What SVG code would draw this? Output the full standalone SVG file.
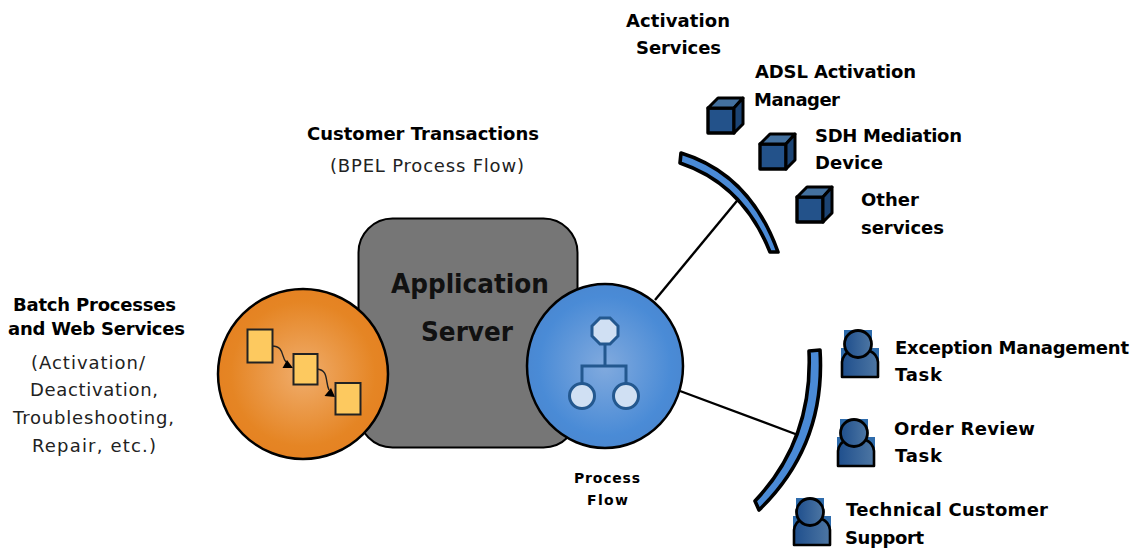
<svg xmlns="http://www.w3.org/2000/svg" width="1137" height="550" viewBox="0 0 1137 550">
<style>
text{font-family:"DejaVu Sans","Liberation Sans",sans-serif;fill:#000;text-anchor:start}
.b{font-weight:bold;font-size:18px}
.r{font-size:18px;fill:#222}
.s{font-weight:bold;font-size:14px}
.big{font-weight:bold;font-size:27px;fill:#111}
.box{fill:#fdc95f;stroke:#222;stroke-width:2}
.node{fill:#d0e0f3;stroke:#23588f;stroke-width:3}
.arc{fill:#4a8ad6;stroke:#000;stroke-width:3.6;stroke-linejoin:round}
.conn{fill:none;stroke:#000;stroke-width:2.4}
.fl{fill:none;stroke:#222;stroke-width:1.4}
.cf{fill:#23528a;stroke:#000;stroke-width:3.4;stroke-linejoin:round}
.ct{fill:#44719f;stroke:#000;stroke-width:3;stroke-linejoin:round}
.cs{fill:#1c4474;stroke:#000;stroke-width:3;stroke-linejoin:round}
.hb{fill:#2f6cac}
.pb{fill:url(#pg);stroke:#000;stroke-width:2.6;stroke-linejoin:round}
.ph{fill:url(#pg);stroke:#000;stroke-width:2.8}
</style>
<defs>
<radialGradient id="og"><stop offset="0" stop-color="#f0ad6c"/><stop offset="0.85" stop-color="#e58524"/><stop offset="1" stop-color="#e58222"/></radialGradient>
<radialGradient id="bg"><stop offset="0" stop-color="#81aade"/><stop offset="0.85" stop-color="#4a8bd6"/><stop offset="1" stop-color="#4a88d2"/></radialGradient>
<linearGradient id="pg"><stop offset="0" stop-color="#1f4f8d"/><stop offset="1" stop-color="#4d76a3"/></linearGradient>
<g id="cube"><path class="cf" d="M1 12H27V37H1Z"/><path class="ct" d="M1 12L11 2H36L27 12Z"/><path class="cs" d="M27 12L36 2V28L27 37Z"/></g>
<g id="person"><rect class="hb" x="3" y="0" width="28" height="30"/><rect class="hb" x="0" y="18" width="38" height="24"/><path class="pb" d="M1 47V32Q2 24 9 21H29Q36 24 37 32V47Z"/><circle class="ph" cx="17" cy="14" r="13.500"/></g>
</defs>
<g id="connectors">
<path class="conn" d="M655 300L741 196"/>
<path class="conn" d="M680 391L798 435"/>
</g>
<g id="app-server">
<rect x="358.500" y="218.500" width="219" height="229" rx="34" fill="#767676" stroke="#000" stroke-width="2"/>
<text class="big" x="391" y="293" textLength="158" lengthAdjust="spacingAndGlyphs">Application</text>
<text class="big" x="421" y="341" textLength="92" lengthAdjust="spacingAndGlyphs">Server</text>
</g>
<g id="batch-circle">
<circle cx="303" cy="374" r="85" fill="url(#og)" stroke="#000" stroke-width="2.500"/>
<path class="fl" d="M272 346C284 346 281 356 286 362"/>
<path class="fl" d="M317 369C329 370 325 382 329 390"/>
<path d="M282.500 368L293 368L287 360Z M324.500 396L335 397L331 388Z" fill="#000"/>
<rect class="box" x="247.500" y="329.500" width="25" height="33"/>
<rect class="box" x="293.500" y="354" width="24" height="30.500"/>
<rect class="box" x="335.500" y="383" width="25" height="31.500"/>
</g>
<g id="process-flow">
<ellipse cx="605" cy="366" rx="78" ry="82" fill="url(#bg)" stroke="#000" stroke-width="2.500"/>
<path d="M605 345V366M582 391V366H626V391" fill="none" stroke="#23588f" stroke-width="3"/>
<path class="node" d="M600 318H610L618 326V336L610 344H600L592 336V326Z"/>
<circle class="node" cx="582" cy="396" r="12.500"/>
<circle class="node" cx="626" cy="396" r="12.500"/>
<text class="s" x="574" y="483" textLength="66">Process</text>
<text class="s" x="587" y="505" textLength="41">Flow</text>
</g>
<g id="activation-arc">
<path class="arc" d="M681 153Q750 174 778 252L770 252Q743 184 680 163Z"/>
</g>
<g id="task-arc">
<path class="arc" d="M809 351L820 350Q826 445 759 510L755 501Q813 440 809 351Z"/>
</g>
<g id="adsl"><use href="#cube" x="707" y="96"/><text class="b" x="755" y="78" textLength="161">ADSL Activation</text><text class="b" x="754" y="106" textLength="86">Manager</text></g>
<g id="sdh"><use href="#cube" x="759" y="132"/><text class="b" x="815" y="142" textLength="147">SDH Mediation</text><text class="b" x="815" y="169" textLength="68">Device</text></g>
<g id="other"><use href="#cube" x="796" y="185"/><text class="b" x="861" y="206" textLength="58">Other</text><text class="b" x="861" y="234" textLength="83">services</text></g>
<g id="exception"><use href="#person" x="841" y="330"/><text class="b" x="895" y="354" textLength="234">Exception Management</text><text class="b" x="895" y="381" textLength="47">Task</text></g>
<g id="order"><use href="#person" x="837" y="419"/><text class="b" x="894" y="435" textLength="141">Order Review</text><text class="b" x="895" y="462" textLength="47">Task</text></g>
<g id="support"><use href="#person" x="793" y="498"/><text class="b" x="846" y="516" textLength="202">Technical Customer</text><text class="b" x="845" y="544" textLength="79">Support</text></g>
<g id="labels">
<text class="b" x="626" y="27" textLength="104">Activation</text>
<text class="b" x="636" y="54" textLength="85">Services</text>
<text class="b" x="307" y="140" textLength="232">Customer Transactions</text>
<text class="r" x="330" y="172" textLength="194">(BPEL Process Flow)</text>
<text class="b" x="13" y="311" textLength="163">Batch Processes</text>
<text class="b" x="8" y="335" textLength="177">and Web Services</text>
<text class="r" x="31" y="369" textLength="114">(Activation/</text>
<text class="r" x="30" y="396" textLength="128">Deactivation,</text>
<text class="r" x="13" y="424" textLength="161">Troubleshooting,</text>
<text class="r" x="32" y="452" textLength="124">Repair, etc.)</text>
</g>
</svg>
